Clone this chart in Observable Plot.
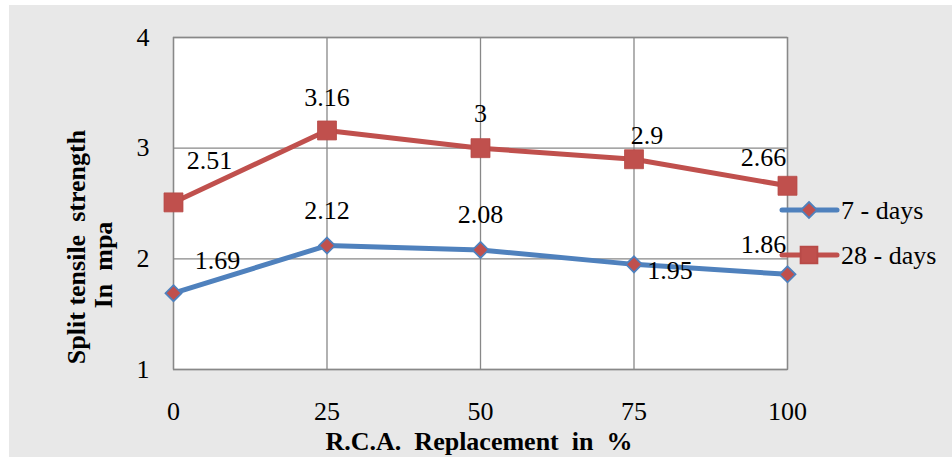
<!DOCTYPE html>
<html>
<head>
<meta charset="utf-8">
<script src="https://cdn.jsdelivr.net/npm/d3@7"></script>
<script src="https://cdn.jsdelivr.net/npm/@observablehq/plot@0.6"></script>
<style>
  html, body { margin: 0; padding: 0; background: #ffffff; }
  #chart { position: absolute; left: 9px; top: 5px; }
  #chart svg { background: #e8e8e8; display: block; }
</style>
</head>
<body>
<div id="chart"></div>
<script>
// ---- data ----
const replacement = [0, 25, 50, 75, 100];
const days7 = [1.69, 2.12, 2.08, 1.95, 1.86];
const days28 = [2.51, 3.16, 3, 2.9, 2.66];
const seriesNames = ["7 - days", "28 - days"];
const yTicks = [1, 2, 3, 4];
const xTicks = [0, 25, 50, 75, 100];
const xTitle = "R.C.A.  Replacement  in  %";
const yTitleLines = ["Split tensile  strength", "In  mpa"];

// label placement offsets (px), styling only
const off7 = [[44, -32], [0, -35], [0, -35], [36, 6], [-24, -30]];
const off28 = [[36, -42], [0, -33], [0, -34], [13, -24], [-24, -28]];

const BLUE = "#4f81bd", RED = "#c0504d", GRID = "#888888";
const FONT = "Liberation Serif";
const FS = 26;

const rows7 = replacement.map((x, i) => ({x, y: days7[i], s: seriesNames[0]}));
const rows28 = replacement.map((x, i) => ({x, y: days28[i], s: seriesNames[1]}));

const labelMarks = [];
rows7.forEach((d, i) => labelMarks.push(Plot.text([d], {x: "x", y: "y", text: d => String(d.y), dx: off7[i][0], dy: off7[i][1], fontSize: FS, fontFamily: FONT, fill: "#000"})));
rows28.forEach((d, i) => labelMarks.push(Plot.text([d], {x: "x", y: "y", text: d => String(d.y), dx: off28[i][0], dy: off28[i][1], fontSize: FS, fontFamily: FONT, fill: "#000"})));

const chart = Plot.plot({
  width: 943,
  height: 452,
  marginLeft: 164,
  marginTop: 32,
  marginRight: 165,
  marginBottom: 88,
  style: {fontFamily: FONT, fontSize: FS + "px", color: "#000", background: "#e8e8e8"},
  x: {domain: [0, 100], ticks: xTicks, label: null},
  y: {domain: [1, 4], ticks: yTicks, label: null},
  marks: [
    Plot.frame({fill: "white", stroke: GRID, strokeWidth: 1.3}),
    Plot.gridX(xTicks, {stroke: GRID, strokeOpacity: 1, strokeWidth: 1.3}),
    Plot.gridY(yTicks, {stroke: GRID, strokeOpacity: 1, strokeWidth: 1.3}),
    Plot.axisX(xTicks, {tickSize: 0, tickPadding: 32, fontSize: FS, fontFamily: FONT, tickFormat: d => String(d), label: null}),
    Plot.axisY(yTicks, {tickSize: 0, tickPadding: 24, fontSize: FS, fontFamily: FONT, tickFormat: d => String(d), label: null}),
    Plot.line(rows7, {x: "x", y: "y", stroke: BLUE, strokeWidth: 5}),
    Plot.line(rows28, {x: "x", y: "y", stroke: RED, strokeWidth: 5}),
    Plot.dot(rows7, {x: "x", y: "y", symbol: "diamond2", r: 7.2, fill: RED, stroke: BLUE, strokeWidth: 1.8}),
    Plot.dot(rows28, {x: "x", y: "y", symbol: "square", r: 10.7, fill: RED, stroke: "#b84a47", strokeWidth: 0.8}),
    ...labelMarks
  ]
});

document.getElementById("chart").appendChild(chart);

// ---- axis titles and legend (drawn in SVG coordinates) ----
const svg = d3.select(chart);
svg.append("text")
  .attr("x", 479 - 9).attr("y", 441 - 5)
  .attr("text-anchor", "middle").attr("dominant-baseline", "central")
  .style("font-size", FS + "px").style("font-weight", "bold")
  .style("white-space", "pre").attr("xml:space", "preserve")
  .text(xTitle);

const ytPos = [[76, 247], [103, 265]];
yTitleLines.forEach((t, i) => {
  svg.append("text")
    .attr("transform", `translate(${ytPos[i][0] - 9},${ytPos[i][1] - 5}) rotate(-90)`)
    .attr("text-anchor", "middle").attr("dominant-baseline", "central")
    .style("font-size", FS + "px").style("font-weight", "bold")
    .style("white-space", "pre").attr("xml:space", "preserve")
    .text(t);
});

const lg = svg.append("g").attr("transform", "translate(-9,-5)");
const legendRows = [
  {name: seriesNames[0], y: 210, color: BLUE, sym: d3.symbolDiamond2, size: Math.PI * 7.2 * 7.2, fill: RED, stroke: BLUE},
  {name: seriesNames[1], y: 255, color: RED, sym: d3.symbolSquare, size: Math.PI * 9.5 * 9.5, fill: RED, stroke: "#b84a47"}
];
legendRows.forEach(r => {
  lg.append("line").attr("x1", 782).attr("x2", 837).attr("y1", r.y).attr("y2", r.y)
    .attr("stroke", r.color).attr("stroke-width", 5).attr("stroke-linecap", "round");
  lg.append("path").attr("d", d3.symbol(r.sym, r.size)()).attr("transform", `translate(809,${r.y})`)
    .attr("fill", r.fill).attr("stroke", r.stroke).attr("stroke-width", 1.8);
  lg.append("text").attr("x", 841).attr("y", r.y).attr("dominant-baseline", "central")
    .attr("text-anchor", "start")
    .style("font-size", FS + "px").text(r.name);
});

// force serif font and plain numerals on every text element
svg.selectAll("text, g")
  .attr("font-family", "'Liberation Serif', 'Times New Roman', serif")
  .style("font-family", "'Liberation Serif', 'Times New Roman', serif")
  .style("font-variant", "normal")
  .style("font-variant-numeric", "normal");
svg.style("font-family", "'Liberation Serif', 'Times New Roman', serif");
</script>
</body>
</html>
